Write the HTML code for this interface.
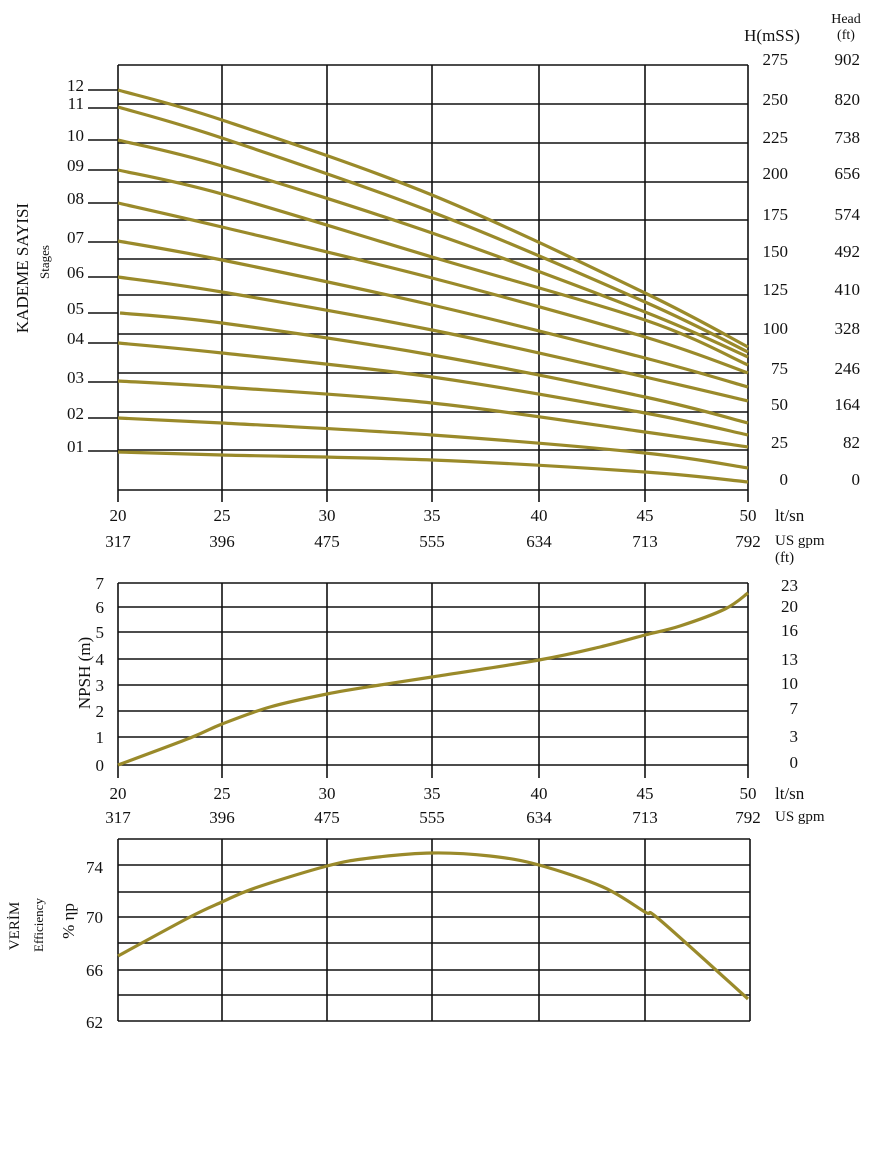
<!DOCTYPE html>
<html><head><meta charset="utf-8"><style>
body{margin:0;background:#fff}
svg{display:block}
text{font-family:"Liberation Serif",serif;fill:#111}
</style></head><body>
<svg id="s" width="870" height="1174" viewBox="0 0 870 1174" xmlns="http://www.w3.org/2000/svg">
<g id="grid" stroke="#111" stroke-width="1.6" fill="none"></g>
<g id="curves" stroke="#9a8a2a" stroke-width="3.2" fill="none" stroke-linejoin="round"></g>
<g font-size="17">
<text x="772" y="41" text-anchor="middle" font-size="17">H(mSS)</text>
<text x="846" y="23" text-anchor="middle" font-size="14">Head</text>
<text x="846" y="39" text-anchor="middle" font-size="14">(ft)</text>
</g>
<g id="lbl" font-size="17"></g>
<text transform="translate(28,268) rotate(-90)" text-anchor="middle" font-size="17">KADEME SAYISI</text>
<text transform="translate(49,262) rotate(-90)" text-anchor="middle" font-size="13">Stages</text>
<text transform="translate(90,673) rotate(-90)" text-anchor="middle" font-size="17">NPSH (m)</text>
<text transform="translate(19,926) rotate(-90)" text-anchor="middle" font-size="15">VERİM</text>
<text transform="translate(43,925) rotate(-90)" text-anchor="middle" font-size="13">Efficiency</text>
<text transform="translate(74,921) rotate(-90)" text-anchor="middle" font-size="17">% ηp</text>
</svg>
<script>
var NS="http://www.w3.org/2000/svg";
function el(p,t,a,txt){var e=document.createElementNS(NS,t);for(var k in a)e.setAttribute(k,a[k]);if(txt!==undefined)e.textContent=txt;document.getElementById(p).appendChild(e);return e;}
var X=[118,222,327,432,539,645,748];
function line(x1,y1,x2,y2){el("grid","line",{x1:x1,y1:y1,x2:x2,y2:y2});}
var H=[65,104,143,182,220,259,295,334,373,412,450,490];
H.forEach(function(y){line(118,y,748,y)});
X.forEach(function(x){line(x,65,x,502)});
var st=[["12",90],["11",108],["10",140],["09",170],["08",203],["07",242],["06",277],["05",313],["04",343],["03",382],["02",418],["01",451]];
st.forEach(function(s){line(88,s[1],118,s[1]);el("lbl","text",{x:84,y:s[1]+1,"text-anchor":"end"},s[0]);});
var rv=[["275","902",59],["250","820",99],["225","738",137],["200","656",173],["175","574",214],["150","492",251],["125","410",289],["100","328",328],["75","246",368],["50","164",404],["25","82",442],["0","0",479]];
rv.forEach(function(r){el("lbl","text",{x:788,y:r[2]+6,"text-anchor":"end"},r[0]);el("lbl","text",{x:860,y:r[2]+6,"text-anchor":"end"},r[1]);});
var q=["20","25","30","35","40","45","50"],g=["317","396","475","555","634","713","792"];
function xl(y1,y2){X.forEach(function(x,i){el("lbl","text",{x:x,y:y1,"text-anchor":"middle"},q[i]);el("lbl","text",{x:x,y:y2,"text-anchor":"middle"},g[i]);});
el("lbl","text",{x:775,y:y1},"lt/sn");el("lbl","text",{x:775,y:y2-2,"font-size":"15"},"US gpm");}
xl(521,547);
el("lbl","text",{x:775,y:562,"font-size":"15"},"(ft)");
var N=[583,607,632,659,685,711,737,765];
N.forEach(function(y){line(118,y,748,y)});
X.forEach(function(x){line(x,583,x,778)});
var nl=["7","6","5","4","3","2","1","0"],nf=["23","20","16","13","10","7","3","0"];
var nfy=[585,606,630,659,683,708,736,762];
N.forEach(function(y,i){el("lbl","text",{x:104,y:y+6,"text-anchor":"end"},nl[i]);el("lbl","text",{x:798,y:nfy[i]+6,"text-anchor":"end"},nf[i]);});
xl(799,823);
var E=[839,865,892,917,943,970,995,1021];
E.forEach(function(y){line(118,y,750,y)});
[118,222,327,432,539,645,750].forEach(function(x){line(x,839,x,1021)});
[["74",867],["70",917],["66",970],["62",1022]].forEach(function(e){el("lbl","text",{x:103,y:e[1]+6,"text-anchor":"end"},e[0]);});
function cr(pts){var d="M"+pts[0][0]+","+pts[0][1];for(var i=0;i<pts.length-1;i++){var p0=pts[i-1]||pts[i],p1=pts[i],p2=pts[i+1],p3=pts[i+2]||p2;
d+=" C"+(p1[0]+(p2[0]-p0[0])/6)+","+(p1[1]+(p2[1]-p0[1])/6)+" "+(p2[0]-(p3[0]-p1[0])/6)+","+(p2[1]-(p3[1]-p1[1])/6)+" "+p2[0]+","+p2[1];}
el("curves","path",{d:d});}
var SX=[118,222,432,645,748];
var S=[[90,120,195,293,347],[107,138,212,302,352],[140,166,233,312,357],[170,194,257,320,365],[203,227,278,337,373],[241,260,305,358,387],[277,292,330,377,401],[313,323,355,397,423],[343,353,377,413,435],[381,387,403,432,447],[418,423,435,453,468],[452,455,460,472,482]];
S.forEach(function(c,j){var p=SX.map(function(x,i){return [x,c[i]]});if(j==7)p[0]=[120,313];cr(p);});
cr([[118,765],[190,738],[222,724],[270,707],[327,694],[380,685],[432,677],[539,660],[600,647],[645,635],[680,626],[725,609],[748,593]]);
cr([[118,956],[190,917],[222,902],[255,888],[327,866],[370,858],[432,853],[490,856],[539,865],[603,887],[645,912],[660,920],[748,999]]);
</script>
</body></html>
